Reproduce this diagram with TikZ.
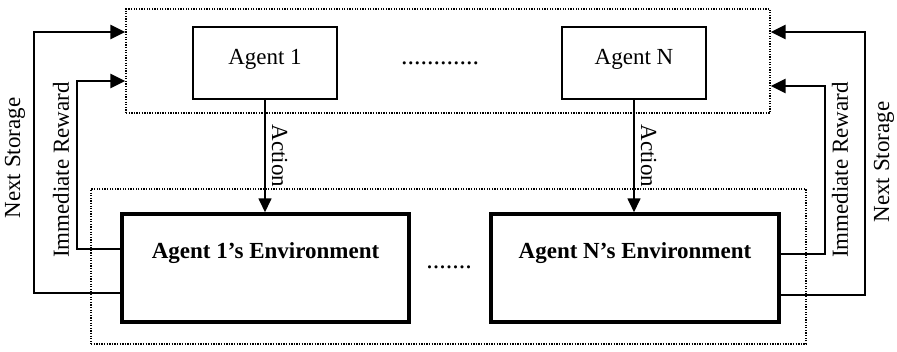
\documentclass[tikz,border=0pt]{standalone}
\usepackage{fontspec}
\setmainfont{Liberation Serif}
\usetikzlibrary{arrows.meta}
\begin{document}
\begin{tikzpicture}[x=1pt,y=-1pt,
  every node/.style={font=\fontsize{23}{25}\selectfont},
  dotbox/.style={draw, line width=1.3pt, dash pattern=on 1.3pt off 1.3pt, inner sep=0pt},
  agentbox/.style={draw, line width=1.7pt, inner sep=0pt},
  envbox/.style={draw, line width=3.5pt, inner sep=0pt},
  act/.style={line width=1.7pt, -{Triangle[length=14pt,width=13pt]}},
  fb/.style={line width=2.8pt, -{Triangle[length=15pt,width=14pt]}},
  lbl/.style={inner sep=0pt},
  dotlbl/.style={inner sep=0pt, font=\fontsize{26}{28}\selectfont}]
\useasboundingbox (0,0) rectangle (897,351);
% dotted groups
\node[dotbox, minimum width=644pt, minimum height=104pt] (top) at (448,61) {};
\node[dotbox, minimum width=715pt, minimum height=155pt] (bot) at (448.5,266.5) {};
% agents
\node[agentbox, minimum width=144pt, minimum height=72pt] (a1) at (265,63) {};
\node[lbl] (a1t) at (265,59) {Agent 1};
\node[agentbox, minimum width=144pt, minimum height=72pt] (aN) at (634,63) {};
\node[lbl] (aNt) at (634,59) {Agent N};
\node[dotlbl] (dots1) at (440,63) {............};
% environments
\node[envbox, minimum width=287pt, minimum height=108pt] (e1) at (265.5,268) {};
\node[lbl] (e1t) at (265.5,253) {\bfseries Agent 1’s Environment};
\node[envbox, minimum width=288pt, minimum height=108pt] (eN) at (635,268) {};
\node[lbl] (eNt) at (635,253) {\bfseries Agent N’s Environment};
\node[dotlbl] (dots2) at (449,267) {.......};
% action arrows
\draw[act] (a1.south) -- (a1.south |- e1.north)
  node[midway, right=6pt, rotate=-90, anchor=south, lbl] (act1) {Action};
\draw[act] (aN.south) -- (aN.south |- eN.north)
  node[midway, right=6pt, rotate=-90, anchor=south, lbl] (actN) {Action};
% left feedback
\coordinate (lns) at (34,293);
\coordinate (lir) at (77,249);
\draw[fb] ([yshift=-25pt]e1.west) -- (lns) -- (lns |- 0,32) -- (top.west |- 0,32);
\draw[fb] ([yshift=19pt]e1.west) -- (lir) -- (lir |- 0,81) -- (top.west |- 0,81);
\node[lbl, rotate=90] (lnsl) at (15,158) {Next Storage};
\node[lbl, rotate=90] (lirl) at (61,170) {Immediate Reward};
% right feedback
\coordinate (rns) at (865,295);
\coordinate (rir) at (825,254);
\draw[fb] ([yshift=-27pt]eN.east) -- (rns) -- (rns |- 0,32) -- (top.east |- 0,32);
\draw[fb] ([yshift=14pt]eN.east) -- (rir) -- (rir |- 0,86) -- (top.east |- 0,86);
\node[lbl, rotate=90] (rirl) at (840,170) {Immediate Reward};
\node[lbl, rotate=90] (rnsl) at (884,162) {Next Storage};
\end{tikzpicture}
\end{document}
